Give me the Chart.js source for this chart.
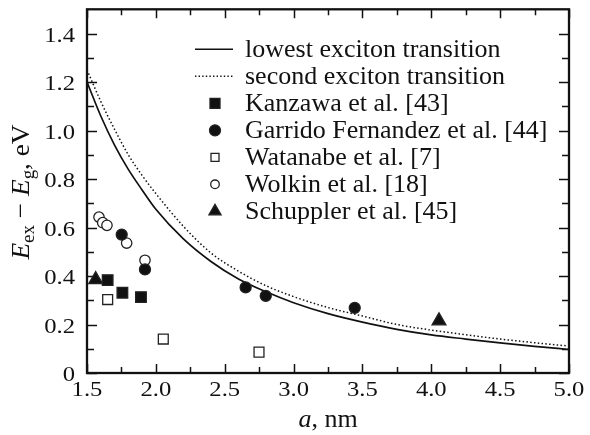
<!DOCTYPE html>
<html>
<head>
<meta charset="utf-8">
<script src="https://cdn.jsdelivr.net/npm/chart.js@4.4.1/dist/chart.umd.min.js"></script>
<style>
  html, body { margin: 0; padding: 0; background: #fff; }
  canvas { display: block; }
</style>
</head>
<body>
<canvas id="chart" width="590" height="435"></canvas>
<script>
// curves
const curveA = [1.5, 1.6, 1.7, 1.8, 1.9, 2.0, 2.2, 2.4, 2.6, 2.8, 3.0, 3.25, 3.5, 3.75, 4.0, 4.25, 4.5, 4.75, 5.0];
const lowestE = [1.20, 1.06, 0.94, 0.84, 0.755, 0.675, 0.553, 0.46, 0.388, 0.335, 0.29, 0.245, 0.21, 0.18, 0.157, 0.14, 0.124, 0.11, 0.097];
const secondE = [1.25, 1.12, 1.005, 0.90, 0.815, 0.74, 0.605, 0.495, 0.42, 0.36, 0.315, 0.27, 0.235, 0.20, 0.177, 0.158, 0.14, 0.125, 0.111];

// experimental points
const kanzawaA = [1.65, 1.757, 1.892];
const kanzawaE = [0.383, 0.331, 0.313];
const garridoA = [1.752, 1.921, 2.652, 2.798, 3.444];
const garridoE = [0.571, 0.427, 0.353, 0.318, 0.269];
const watanabeA = [1.65, 2.054, 2.749];
const watanabeE = [0.303, 0.140, 0.086];
const wolkinA = [1.587, 1.614, 1.645, 1.788, 1.921];
const wolkinE = [0.643, 0.620, 0.609, 0.536, 0.465];
const schupplerA = [1.563, 4.056];
const schupplerE = [0.385, 0.215];

// ticks
const xTickValues = [1.5, 2.0, 2.5, 3.0, 3.5, 4.0, 4.5, 5.0];
const xTickLabels = ['1.5', '2.0', '2.5', '3.0', '3.5', '4.0', '4.5', '5.0'];
const xMinorTicks = [1.75, 2.25, 2.75, 3.25, 3.75, 4.25, 4.75];
const yTickValues = [0, 0.2, 0.4, 0.6, 0.8, 1.0, 1.2, 1.4];
const yTickLabels = ['0', '0.2', '0.4', '0.6', '0.8', '1.0', '1.2', '1.4'];
const yMinorTicks = [0.1, 0.3, 0.5, 0.7, 0.9, 1.1, 1.3];

const SERIF = '"Liberation Serif", "Times New Roman", serif';

function pts(xs, ys) {
    return xs.map((x, i) => ({ x: x, y: ys[i] }));
}

// sx: horizontal stretch, the tick digits in the figure are a bit wide
function text(ctx, str, x, y, font, align, sx) {
    ctx.save();
    ctx.translate(x, y);
    ctx.scale(sx || 1, 1);
    ctx.font = font;
    ctx.textAlign = align || 'left';
    ctx.fillText(str, 0, 0);
    ctx.restore();
}

function marker(ctx, style, filled, x, y, r) {
    ctx.save();
    ctx.fillStyle = filled ? '#111' : '#fff';
    ctx.strokeStyle = '#222';
    ctx.lineWidth = 1.3;
    ctx.beginPath();
    if (style === 'rect') {
        ctx.rect(x - r, y - r, 2 * r, 2 * r);
    } else if (style === 'circle') {
        ctx.arc(x, y, r, 0, Math.PI * 2);
    } else {
        ctx.moveTo(x, y - r);
        ctx.lineTo(x + r * 0.866, y + r * 0.5);
        ctx.lineTo(x - r * 0.866, y + r * 0.5);
        ctx.closePath();
    }
    ctx.fill();
    ctx.stroke();
    ctx.restore();
}

const legendItems = [
    { label: 'lowest exciton transition', line: 'solid' },
    { label: 'second exciton transition', line: 'dot' },
    { label: 'Kanzawa et al. [43]', style: 'rect', filled: true, r: 5 },
    { label: 'Garrido Fernandez et al. [44]', style: 'circle', filled: true, r: 5.5 },
    { label: 'Watanabe et al. [7]', style: 'rect', filled: false, r: 4 },
    { label: 'Wolkin et al. [18]', style: 'circle', filled: false, r: 4.3 },
    { label: 'Schuppler et al. [45]', style: 'triangle', filled: true, r: 7 }
];

const framePlugin = {
    id: 'frame',
    beforeDatasetsDraw(chart) {
        const ctx = chart.ctx;
        const a = chart.chartArea;
        const xs = chart.scales.x, ys = chart.scales.y;
        ctx.save();
        ctx.strokeStyle = '#111';
        ctx.lineWidth = 1.5;
        ctx.beginPath();
        xTickValues.concat(xMinorTicks).forEach(v => {
            const len = xMinorTicks.includes(v) ? 6 : 9;
            const px = Math.round(xs.getPixelForValue(v)) + 0.5;
            ctx.moveTo(px, a.bottom); ctx.lineTo(px, a.bottom - len);
            ctx.moveTo(px, a.top); ctx.lineTo(px, a.top + len);
        });
        yTickValues.concat(yMinorTicks).forEach(v => {
            const len = yMinorTicks.includes(v) ? 7 : 10;
            const py = Math.round(ys.getPixelForValue(v)) + 0.5;
            ctx.moveTo(a.left, py); ctx.lineTo(a.left + len, py);
            ctx.moveTo(a.right, py); ctx.lineTo(a.right - len, py);
        });
        ctx.stroke();
        ctx.lineWidth = 2.3;
        ctx.strokeRect(a.left, a.top, a.right - a.left, a.bottom - a.top);
        ctx.restore();
    },
    afterDraw(chart) {
        const ctx = chart.ctx;
        const a = chart.chartArea;
        const xs = chart.scales.x, ys = chart.scales.y;
        ctx.save();
        ctx.fillStyle = '#111';
        ctx.textBaseline = 'alphabetic';
        // tick labels
        xTickValues.forEach((v, i) => {
            text(ctx, xTickLabels[i], xs.getPixelForValue(v), a.bottom + 23, '22px ' + SERIF, 'center', 1.12);
        });
        yTickValues.forEach((v, i) => {
            text(ctx, yTickLabels[i], a.left - 12, ys.getPixelForValue(v) + 8, '22px ' + SERIF, 'right', 1.12);
        });

        // x title: a, nm
        ctx.font = 'italic 26px ' + SERIF;
        const wa = ctx.measureText('a').width;
        ctx.font = '26px ' + SERIF;
        const wr = ctx.measureText(', nm').width;
        const cx = (a.left + a.right) / 2 - (wa + wr) / 2;
        text(ctx, 'a', cx, 427, 'italic 26px ' + SERIF, 'left');
        text(ctx, ', nm', cx + wa, 427, '26px ' + SERIF, 'left');

        // y title: E_ex - E_g, eV
        const parts = [
            { t: 'E', f: 'italic 26px ' + SERIF, dy: 0 },
            { t: 'ex', f: '18px ' + SERIF, dy: 5 },
            { t: ' \u2212 ', f: '26px ' + SERIF, dy: 0 },
            { t: 'E', f: 'italic 26px ' + SERIF, dy: 0 },
            { t: 'g', f: '18px ' + SERIF, dy: 5 },
            { t: ', eV', f: '26px ' + SERIF, dy: 0 }
        ];
        let total = 0;
        parts.forEach(p => { ctx.font = p.f; p.w = ctx.measureText(p.t).width * 1.05; total += p.w; });
        ctx.save();
        ctx.translate(29, 192);
        ctx.rotate(-Math.PI / 2);
        let px = -total / 2;
        parts.forEach(p => { text(ctx, p.t, px, p.dy, p.f, 'left', 1.05); px += p.w; });
        ctx.restore();

        // legend
        const lx = a.left + 108, mx = a.left + 128, tx = a.left + 158;
        legendItems.forEach((it, i) => {
            const y = a.top + 40 + i * 27;
            if (it.line) {
                ctx.save();
                ctx.strokeStyle = '#111';
                ctx.lineWidth = it.line === 'solid' ? 1.6 : 1.4;
                if (it.line === 'dot') ctx.setLineDash([1.4, 2.2]);
                ctx.beginPath();
                ctx.moveTo(lx, y); ctx.lineTo(lx + 38, y);
                ctx.stroke();
                ctx.restore();
            } else {
                marker(ctx, it.style, it.filled, mx, y, it.r);
            }
            text(ctx, it.label, tx, y + 8, '26px ' + SERIF, 'left');
        });
        ctx.restore();
    }
};

const pointDefaults = { showLine: false, borderColor: '#222', borderWidth: 1.3, order: 1 };

new Chart(document.getElementById('chart').getContext('2d'), {
    type: 'scatter',
    data: {
        datasets: [
            {
                label: 'lowest exciton transition',
                data: pts(curveA, lowestE),
                showLine: true, borderColor: '#111', borderWidth: 1.7,
                pointRadius: 0, cubicInterpolationMode: 'monotone', order: 2
            },
            {
                label: 'second exciton transition',
                data: pts(curveA, secondE),
                showLine: true, borderColor: '#111', borderWidth: 1.5, borderDash: [1.5, 2.3],
                pointRadius: 0, cubicInterpolationMode: 'monotone', order: 2
            },
            Object.assign({ label: 'Kanzawa et al. [43]', data: pts(kanzawaA, kanzawaE),
                pointStyle: 'rect', pointRadius: 7.5, backgroundColor: '#111' }, pointDefaults),
            Object.assign({ label: 'Garrido Fernandez et al. [44]', data: pts(garridoA, garridoE),
                pointStyle: 'circle', pointRadius: 5.5, backgroundColor: '#111' }, pointDefaults),
            Object.assign({ label: 'Watanabe et al. [7]', data: pts(watanabeA, watanabeE),
                pointStyle: 'rect', pointRadius: 7, backgroundColor: '#fff' }, pointDefaults),
            Object.assign({ label: 'Wolkin et al. [18]', data: pts(wolkinA, wolkinE),
                pointStyle: 'circle', pointRadius: 5.2, backgroundColor: '#fff' }, pointDefaults),
            Object.assign({ label: 'Schuppler et al. [45]', data: pts(schupplerA, schupplerE),
                pointStyle: 'triangle', pointRadius: 8, backgroundColor: '#111' }, pointDefaults)
        ]
    },
    options: {
        responsive: false,
        animation: false,
        devicePixelRatio: 1,
        layout: { padding: { top: 8, right: 21, left: 0, bottom: 0 } },
        plugins: { legend: { display: false }, tooltip: { enabled: false } },
        scales: {
            x: {
                type: 'linear', min: 1.5, max: 5.0,
                ticks: { display: false },
                grid: { display: false },
                border: { display: false },
                afterFit: s => { s.height = 62; }
            },
            y: {
                type: 'linear', min: 0, max: 1.5,
                ticks: { display: false },
                grid: { display: false },
                border: { display: false },
                afterFit: s => { s.width = 87; }
            }
        }
    },
    plugins: [framePlugin]
});
</script>
</body>
</html>
